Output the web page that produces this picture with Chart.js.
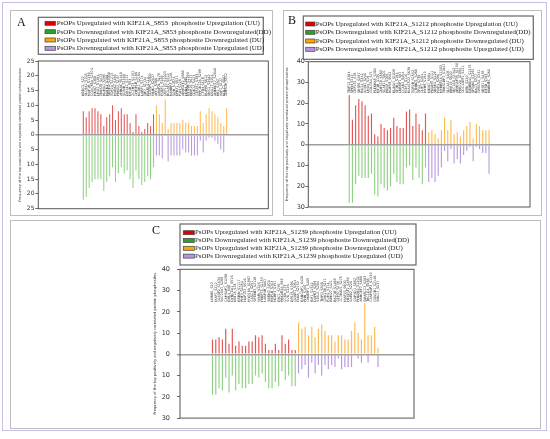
<!DOCTYPE html>
<html>
<head>
<meta charset="utf-8">
<script src="https://cdn.jsdelivr.net/npm/chart.js@4.4.1/dist/chart.umd.min.js"></script>
<style>
html, body { margin: 0; padding: 0; background: #fff; }
#fig { position: relative; width: 550px; height: 439px; }
#frame { position: absolute; left: 2px; top: 2px; width: 543px; height: 427px; border: 1.5px solid #cbbde3; }
canvas { position: absolute; }
</style>
</head>
<body>
<div id="fig">
  <div id="frame"></div>
  <canvas id="chartA" width="263" height="206" style="left:10px;top:10px"></canvas>
  <canvas id="chartB" width="259" height="206" style="left:283px;top:10px"></canvas>
  <canvas id="chartC" width="531" height="209" style="left:10px;top:220px"></canvas>
</div>
<script>
// values (down series are plotted below zero)
var A_UU = [8, 6, 8, 9, 9, 8, 7, 3, 6, 7, 10, 5, 8, 9, 7, 7, 4, 1, 7, 3, 1, 2, 4, 3, 7];
var A_DD = [22, 21, 18, 16, 15, 15, 15, 19, 16, 14, 11, 16, 13, 11, 13, 12, 15, 18, 12, 15, 17, 16, 14, 15, 11];
var A_DU = [10, 7, 4, 12, 2, 4, 4, 4, 4, 5, 4, 4, 3, 3, 3, 8, 4, 7, 9, 8, 7, 6, 4, 3, 9];
var A_UD = [7, 7, 8, 0, 9, 7, 7, 7, 7, 5, 6, 6, 7, 7, 7, 2, 6, 2, 1, 1, 2, 3, 5, 6, 0];

var B_UU = [24, 12, 19, 22, 21, 19, 14, 15, 5, 4, 10, 8, 7, 8, 13, 9, 8, 8, 16, 17, 9, 15, 10, 7, 15];
var B_DD = [28, 28, 19, 15, 16, 16, 16, 14, 24, 25, 19, 21, 22, 20, 14, 18, 19, 19, 11, 10, 17, 11, 16, 19, 11];
var B_DU = [6, 7, 5, 3, 7, 13, 7, 12, 5, 6, 4, 7, 9, 11, 3, 10, 9, 7, 7, 7];
var B_UD = [18, 16, 18, 15, 11, 3, 8, 2, 9, 7, 9, 5, 3, 1, 8, 1, 2, 4, 4, 14];

var C_UU = [7, 7, 8, 7, 12, 5, 12, 4, 6, 4, 4, 6, 6, 9, 8, 9, 5, 2, 2, 5, 2, 9, 5, 7, 2, 2];
var C_DD = [19, 19, 16, 17, 11, 18, 10, 17, 14, 16, 16, 14, 14, 10, 11, 9, 13, 16, 16, 13, 15, 8, 12, 10, 15, 15];
var C_DU = [15, 12, 13, 9, 13, 8, 12, 14, 11, 9, 9, 6, 9, 9, 7, 7, 11, 15, 10, 7, 24, 9, 9, 13, 3];
var C_UD = [9, 7, 5, 11, 4, 9, 5, 10, 5, 7, 5, 6, 2, 7, 6, 6, 6, 0, 2, 4, 0, 4, 0, 0, 6];

var A_LABELS = ['NDRG1_S27', 'SLC9A1_S703', 'MAP1B_S1256', 'CCDC88A_S1574', 'MKI67_S308', 'LMO7_S1284',
  'TRIM28_S473', 'NUMA1_S395', 'MATR3_S188', 'SRRM2_S1068', 'TOP2A_S1213', 'MARK2_S456', 'PRKD2_S197',
  'AHNAK_S5448', 'SCRIB_S1508', 'DMXL1_S727', 'EIF4B_S93', 'ZC3H13_S1151', 'CHMP4B_S166', 'NCOR1_S2184',
  'LARP1_S774', 'TJP2_S1134', 'PALM_S114', 'CLASP1_S600', 'WNK1_S2027',
  'AFF4_S366', 'UBAP2L_S479', 'PCBP1_S189', 'CEP170_S1003', 'BCLAF1_S512', 'RANBP3_S126', 'SON_S1974',
  'EPB41_S521', 'PXN_S126', 'ARHGEF2_S886', 'LMNA_S390', 'MYO9B_S1290', 'RBM25_S677', 'CDK12_S423',
  'GTF2F1_S385', 'PPP1R12A_S299', 'CTTN_S418', 'NUP98_S612', 'SMG1_S3642', 'DDX17_S704', 'ANKRD17_S2040',
  'RB1_S780', 'YAP1_S127', 'NOLC1_S607', 'ZNF638_S512'];
var B_LABELS = ['TRIP12_S384', 'SPEN_S743', 'CEP131_S35', 'SRSF6_S297', 'RAI14_S342', 'ACIN1_S240',
  'LMO4_S19', 'GOLGA4_S71', 'PLEKHA5_S382', 'EIF3B_S125', 'ZNF318_S563', 'SCAF11_S801', 'HDGF_S165',
  'NOP58_S502', 'NUMA1_S1828', 'SF3B1_S194', 'LRRFIP1_S87', 'CCAR2_S454', 'PCM1_S110', 'KIAA1522_S638',
  'TOP2B_S1552', 'CTNND1_S268', 'TPX2_S738', 'CLIP1_S204', 'MYH9_S1943',
  'MKI67_S584', 'PDLIM5_S111', 'SRRM1_S429', 'MAP4_S280', 'MYBBP1A_S1303', 'TNKS1BP1_S1647', 'SLC4A7_S405',
  'RBM15_S620', 'SEC16A_S1342', 'ARHGAP35_S1150', 'PRRC2A_S1094', 'CDC42EP1_S121', 'NIFK_S230',
  'DENND4C_S1275', 'SPTAN1_S1291', 'BAG3_S377', 'GPRC5A_S331', 'SRSF11_S435', 'EIF5B_S183', 'HNRNPC_S260'];
var C_LABELS = ['LMNB1_S23', 'MAP7_S212', 'CLASP2_S1034', 'SLC20A1_S289', 'CAMSAP1_S1298', 'EML4_S98',
  'DYNC1LI1_S516', 'KRT18_S34', 'ERBIN_S1117', 'PHF3_S1054', 'NUP153_S516', 'MYO18A_S1967', 'CASC3_S257',
  'SPTBN1_S2128', 'WAPL_S226', 'FKBP15_S1153', 'LARP4B_S601', 'SRRM2_S970', 'RRP1B_S703', 'NCBP3_S351',
  'ERC1_S791', 'PRKAR2A_S99', 'CCNY_S73', 'SVIL_S226', 'EPS15_S796', 'CLINT1_S354',
  'FLNA_S2152', 'RANGAP1_S428', 'PNN_S100', 'CHAMP1_S405', 'RIF1_S1542', 'DAPK3_S299', 'STAU1_S284',
  'TMPO_S306', 'CDK11B_S271', 'PUM1_S714', 'RBM27_S471', 'BAZ1B_S1468', 'CEP97_S739', 'ZC3HAV1_S275',
  'MAP1S_S900', 'HTATSF1_S456', 'SAFB2_S220', 'GAPVD1_S902', 'PHLDB2_S1202', 'ARHGEF7_S688',
  'SMARCC2_S283', 'TBC1D4_S588', 'CASP8AP2_S1230', 'GOLGB1_S2146', 'SNX17_S437'];

var A_LEGEND = ['PsOPs Upregulated with KIF21A_S853  phosphosite Upregulation (UU)',
  'PsOPs Downregulated with KIF21A_S853 phosphosite Downregulated(DD)',
  'PsOPs Upregulated with KIF21A_S853 phosphosite Downregulated (DU)',
  'PsOPs Downregulated with KIF21A_S853 phosphosite Upregulated (UD)'];
var B_LEGEND = ['PsOPs Upregulated with KIF21A_S1212 phosphosite Upregulation (UU)',
  'PsOPs Downregulated with KIF21A_S1212 phosphosite Downregulated(DD)',
  'PsOPs Upregulated with KIF21A_S1212 phosphosite Downregulated (DU)',
  'PsOPs Downregulated with KIF21A_S1212 phosphosite Upregulated (UD)'];
var C_LEGEND = ['PsOPs Upregulated with KIF21A_S1239 phosphosite Upregulation (UU)',
  'PsOPs Downregulated with KIF21A_S1239 phosphosite Downregulated(DD)',
  'PsOPs Upregulated with KIF21A_S1239 phosphosite Downregulated (DU)',
  'PsOPs Downregulated with KIF21A_S1239 phosphosite Upregulated (UD)'];

var Y_TITLE = 'Frequency of the top positively and negatively correlated protein phosphosites';

var BAR_COLORS = ['rgba(222,50,50,0.82)', 'rgba(95,188,75,0.68)', 'rgba(255,168,35,0.78)', 'rgba(158,118,205,0.72)'];
var SWATCH = ['#e00000', '#2ca02c', '#ffa500', '#b793e0'];

function pts(vals, start, sign) {
  return vals.map(function (v, i) { return { x: start + i, y: sign * v }; });
}

function series(label, data, color) {
  return {
    label: label,
    data: data,
    backgroundColor: color,
    borderWidth: 0,
    grouped: false,
    categoryPercentage: 0.36,
    barPercentage: 1
  };
}

// frames, legend box, panel letter and the protein labels on top of the bars
function makeDecor(p) {
  return {
    id: 'decor' + p.letter,
    beforeDraw: function (chart) {
      var ctx = chart.ctx;
      ctx.save();
      ctx.fillStyle = '#fff';
      ctx.fillRect(0, 0, chart.width, chart.height);
      ctx.strokeStyle = '#bdbdbd';
      ctx.lineWidth = 1;
      ctx.strokeRect(0.5, 0.5, chart.width - 1, chart.height - 1);
      ctx.restore();
    },
    afterDraw: function (chart) {
      var ctx = chart.ctx, a = chart.chartArea, xs = chart.scales.x;
      ctx.save();
      ctx.strokeStyle = '#555';
      ctx.lineWidth = 1;
      ctx.strokeRect(a.left, a.top, a.right - a.left, a.bottom - a.top);

      ctx.fillStyle = '#111';
      ctx.font = '12px "Liberation Serif"';
      ctx.textBaseline = 'alphabetic';
      ctx.fillText(p.letter, p.letterX, p.letterY);

      ctx.font = '3.3px "DejaVu Sans"';
      ctx.fillStyle = '#333';
      ctx.textAlign = 'left';
      ctx.textBaseline = 'middle';
      p.labels.forEach(function (t, i) {
        ctx.save();
        ctx.translate(xs.getPixelForValue(i), p.labelBase);
        ctx.rotate(-Math.PI / 2);
        ctx.fillText(t, 0, 0);
        ctx.restore();
      });

      var b = p.box;
      ctx.strokeStyle = '#666';
      ctx.lineWidth = 1.2;
      ctx.strokeRect(b[0], b[1], b[2], b[3]);
      ctx.font = '10px "Liberation Serif"';
      var fs = 10 * p.txtW / ctx.measureText(p.legend[0]).width;
      ctx.font = fs.toFixed(2) + 'px "Liberation Serif"';
      p.legend.forEach(function (t, i) {
        var y = p.rows[i];
        ctx.fillStyle = SWATCH[i];
        ctx.fillRect(p.swX, y - 2, p.swW, 4);
        ctx.strokeStyle = '#444';
        ctx.lineWidth = 0.7;
        ctx.strokeRect(p.swX, y - 2, p.swW, 4);
        ctx.fillStyle = '#222';
        ctx.fillText(t, p.txtX, y);
      });
      ctx.restore();
    }
  };
}

function makeChart(id, up, down, upR, downR, p) {
  var n = up.length;
  return new Chart(document.getElementById(id), {
    type: 'bar',
    data: {
      datasets: [
        series(p.legend[0], pts(up, 0, 1), BAR_COLORS[0]),
        series(p.legend[1], pts(down, 0, -1), BAR_COLORS[1]),
        series(p.legend[2], pts(upR, n, 1), BAR_COLORS[2]),
        series(p.legend[3], pts(downR, n, -1), BAR_COLORS[3])
      ]
    },
    options: {
      responsive: false,
      animation: false,
      layout: { padding: p.pad },
      plugins: { legend: { display: false }, tooltip: { enabled: false } },
      scales: {
        x: { type: 'linear', min: p.xMin, max: p.xMax, display: false },
        y: {
          min: p.yMin,
          max: p.yMax,
          afterFit: function (s) { s.width = p.yW; },
          ticks: {
            stepSize: p.step,
            callback: function (v) { return Math.abs(v); },
            font: { family: 'DejaVu Sans', size: p.tickSize },
            color: '#333',
            padding: p.tickPad
          },
          grid: {
            color: function (c) { return c.tick && c.tick.value === 0 ? '#a0a0a0' : 'rgba(0,0,0,0)'; },
            lineWidth: function (c) { return c.tick && c.tick.value === 0 ? 1.6 : 1; },
            tickColor: '#444',
            tickLength: 3,
            tickWidth: 0.8
          },
          border: { display: false },
          title: {
            display: true,
            text: Y_TITLE,
            font: { family: 'DejaVu Sans', size: p.titleSize },
            color: '#333',
            padding: 0
          }
        }
      }
    },
    plugins: [makeDecor(p)]
  });
}

makeChart('chartA', A_UU, A_DD, A_DU, A_UD, {
  letter: 'A', letterX: 7, letterY: 15.5,
  labels: A_LABELS, labelBase: 86, legend: A_LEGEND,
  box: [28.3, 7.3, 225, 37], rows: [13.3, 21.7, 30, 38.3], swX: 35, swW: 10.5, txtX: 46.7, txtW: 203,
  pad: { left: 8, top: 51, right: 4.7, bottom: 7.3 }, yW: 20.3,
  xMin: -2.28, xMax: 50.14, yMin: -25, yMax: 25, step: 5,
  tickSize: 6, tickPad: 0.8, titleSize: 3.4
});

makeChart('chartB', B_UU, B_DD, B_DU, B_UD, {
  letter: 'B', letterX: 5, letterY: 14,
  labels: B_LABELS, labelBase: 83, legend: B_LEGEND,
  box: [20.3, 6, 230, 43.3], rows: [14, 22.3, 31, 39.3], swX: 22.7, swW: 9.3, txtX: 32.7, txtW: 202.6,
  pad: { left: 1.7, top: 51.7, right: 12, bottom: 9 }, yW: 23.6,
  xMin: -1.26, xMax: 45.26, yMin: -30, yMax: 40, step: 10,
  tickSize: 6.5, tickPad: 0.3, titleSize: 3.4
});

makeChart('chartC', C_UU, C_DD, C_DU, C_UD, {
  letter: 'C', letterX: 142, letterY: 14,
  labels: C_LABELS, labelBase: 81.7, legend: C_LEGEND,
  box: [170, 4, 236, 41], rows: [12.7, 20.5, 28.3, 36.1], swX: 173.3, swW: 11, txtX: 185, txtW: 202,
  pad: { left: 143, top: 49.3, right: 127, bottom: 8.3 }, yW: 27,
  xMin: -0.97, xMax: 52.04, yMin: -30, yMax: 40, step: 10,
  tickSize: 6.5, tickPad: 7, titleSize: 3.6
});
</script>
</body>
</html>
